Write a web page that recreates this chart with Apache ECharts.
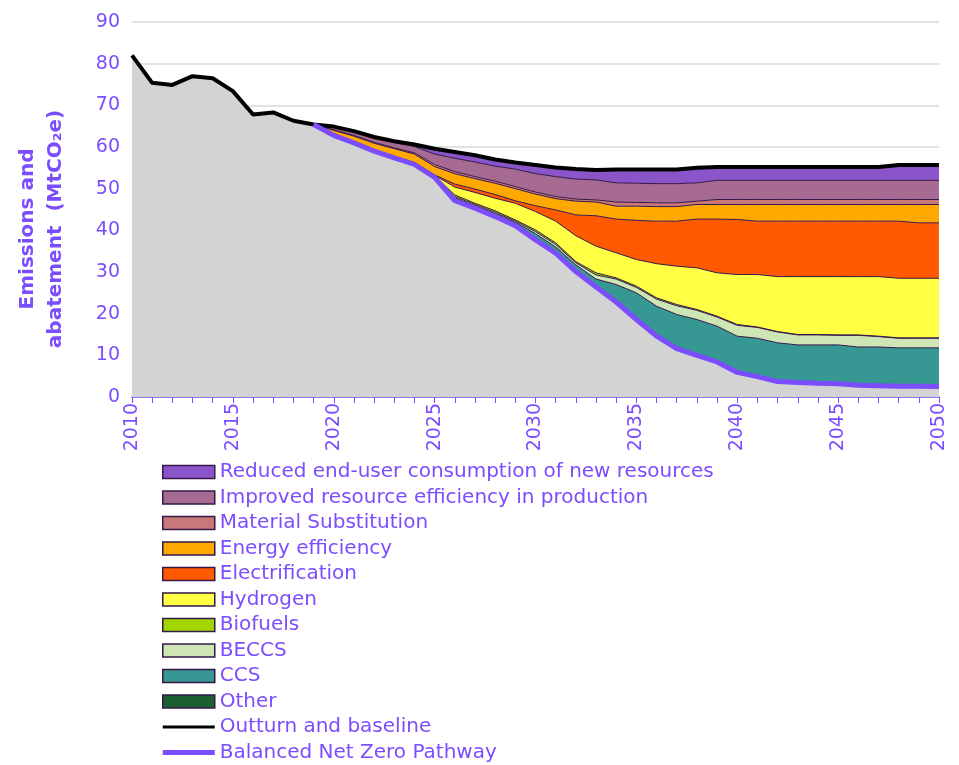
<!DOCTYPE html>
<html>
<head>
<meta charset="utf-8">
<script src="https://cdn.jsdelivr.net/npm/echarts@6/dist/echarts.min.js"></script>
<style>
  html, body { margin: 0; padding: 0; background: #fff; }
  #chart { width: 959px; height: 765px; }
</style>
</head>
<body>
<div id="chart"></div>
<script>
// years on the x axis
const years = [];
for (let y = 2010; y <= 2050; y++) years.push(String(y));

// outturn 2010-2018, baseline 2019-2050 (MtCO2e)
const baseline = [82.0, 75.4, 74.9, 77.0, 76.5, 73.4, 67.8, 68.3, 66.3, 65.4,
  64.9, 63.8, 62.4, 61.4, 60.6, 59.6, 58.8, 58.0, 57.0, 56.3,
  55.7, 55.1, 54.7, 54.5, 54.6, 54.6, 54.6, 54.6, 55.0, 55.2,
  55.2, 55.2, 55.2, 55.2, 55.2, 55.2, 55.2, 55.2, 55.7, 55.7, 55.7];

// the rest start in 2019
const pathway = [65.4, 62.8, 61.0, 59.0, 57.4, 55.8, 52.7, 47.1, 45.3, 43.3, 41.1,
  37.7, 34.5, 30.1, 26.4, 22.8, 18.6, 14.6, 11.6, 10.0, 8.4,
  5.9, 4.9, 3.7, 3.5, 3.3, 3.2, 2.8, 2.7, 2.6, 2.6, 2.5];
const other = [0, 0, 0, 0.1, 0.1, 0.1, 0.1, 0.2, 0.2, 0.2, 0.2,
  0.3, 0.3, 0.3, 0.3, 0.2, 0.2, 0.2, 0.2, 0.2, 0.2,
  0.2, 0.1, 0.1, 0.1, 0.1, 0.1, 0.1, 0.1, 0.1, 0.1, 0.1];
const ccs = [0, 0, 0, 0, 0.1, 0.1, 0.1, 0.5, 0.4, 0.5, 0.6,
  1.2, 1.2, 1.3, 1.6, 4.0, 6.2, 7.0, 8.0, 8.4, 8.4,
  8.5, 9.1, 9.2, 8.9, 9.1, 9.2, 9.1, 9.2, 9.1, 9.1, 9.2];
const beccs = [0, 0, 0, 0, 0, 0.1, 0.1, 0.3, 0.3, 0.3, 0.3,
  0.5, 0.6, 0.5, 1.0, 1.3, 1.3, 1.7, 2.1, 2.2, 2.2,
  2.6, 2.6, 2.6, 2.4, 2.4, 2.3, 2.8, 2.5, 2.3, 2.3, 2.3];
const biofuels = [0, 0, 0, 0, 0, 0, 0.1, 0.4, 0.3, 0.4, 0.3,
  0.4, 0.4, 0.3, 0.5, 0.3, 0.3, 0.3, 0.3, 0.2, 0.2,
  0.2, 0.1, 0.1, 0.1, 0.1, 0.1, 0.1, 0.1, 0.1, 0.1, 0.1];
const hydrogen = [0, 0, 0.1, 0.1, 0.1, 0.1, 0.1, 1.9, 2.6, 3.0, 4.0,
  4.4, 5.2, 6.2, 6.4, 6.0, 6.4, 8.2, 9.2, 10.0, 10.4,
  12.0, 12.6, 13.2, 13.9, 13.9, 14.0, 14.0, 14.3, 14.3, 14.3, 14.3];
const electrification = [0, 0, 0.1, 0.1, 0.1, 0.1, 0.1, 0.7, 0.8, 0.9, 0.6,
  1.4, 2.7, 5.0, 7.3, 8.1, 9.4, 10.2, 10.8, 11.7, 12.9,
  13.2, 12.8, 13.3, 13.3, 13.3, 13.3, 13.3, 13.3, 13.7, 13.3, 13.3];
const energyEff = [0, 1.2, 1.4, 1.6, 1.8, 2.0, 2.0, 2.5, 2.5, 2.7, 2.9,
  2.8, 2.7, 3.3, 3.3, 3.1, 3.4, 3.5, 3.5, 3.5, 3.5,
  3.6, 4.0, 4.0, 4.0, 4.0, 4.0, 4.0, 4.0, 4.0, 4.4, 4.4];
const materialSub = [0, 0.1, 0.2, 0.2, 0.2, 0.3, 0.5, 0.5, 0.5, 0.5, 0.5,
  0.5, 0.5, 0.5, 0.5, 1.0, 0.9, 0.9, 0.9, 0.8, 1.2,
  1.2, 1.2, 1.2, 1.2, 1.2, 1.2, 1.2, 1.2, 1.2, 1.2, 1.2];
const resourceEff = [0, 0.7, 0.9, 1.1, 1.3, 1.5, 2.5, 3.2, 3.5, 3.6, 4.2,
  4.4, 4.8, 4.8, 4.8, 4.6, 4.6, 4.6, 4.6, 4.4, 4.6,
  4.6, 4.6, 4.6, 4.6, 4.6, 4.6, 4.6, 4.6, 4.6, 4.6, 4.6];
const reducedUse = [0, 0.1, 0.1, 0.2, 0.3, 0.5, 1.3, 1.5, 1.6, 1.6, 1.6,
  2.1, 2.2, 2.4, 2.4, 3.2, 3.3, 3.4, 3.4, 3.6, 3.2,
  3.2, 3.2, 3.2, 3.2, 3.2, 3.2, 3.2, 3.2, 3.7, 3.7, 3.7];

const violet = '#7b4dff';
const edge = '#35184a';
const font = 'DejaVu Sans';

// pad the 2019+ arrays so they line up with the 2010 axis
const pad = arr => new Array(9).fill(null).concat(arr);
// grey area: outturn up to 2018, pathway afterwards
const greyArea = baseline.slice(0, 9).concat(pathway);

const layers = [
  ['Other', other, '#1c5e30'],
  ['CCS', ccs, '#379792'],
  ['BECCS', beccs, '#cde6b4'],
  ['Biofuels', biofuels, '#a2d800'],
  ['Hydrogen', hydrogen, '#ffff44'],
  ['Electrification', electrification, '#ff5a00'],
  ['Energy efficiency', energyEff, '#ffa800'],
  ['Material Substitution', materialSub, '#c87878'],
  ['Improved resource efficiency in production', resourceEff, '#a76a93'],
  ['Reduced end-user consumption of new resources', reducedUse, '#8a55c8']
];

const series = [{
  name: 'grey',
  type: 'line',
  stack: 'total',
  data: greyArea,
  showSymbol: false,
  lineStyle: { width: 0 },
  itemStyle: { color: '#d3d3d3' },
  areaStyle: { color: '#d3d3d3', opacity: 1 },
  silent: true
}];
layers.forEach(([name, vals, col]) => {
  series.push({
    name: name,
    type: 'line',
    stack: 'total',
    data: pad(vals),
    showSymbol: false,
    itemStyle: { color: col, borderColor: edge, borderWidth: 1.5 },
    lineStyle: { color: edge, width: 1 },
    areaStyle: { color: col, opacity: 1 }
  });
});
series.push({
  name: 'Outturn and baseline',
  type: 'line',
  data: baseline,
  showSymbol: false,
  z: 5,
  itemStyle: { color: '#000' },
  lineStyle: { color: '#000', width: 4 }
});
series.push({
  name: 'Balanced Net Zero Pathway',
  type: 'line',
  data: pad(pathway),
  showSymbol: false,
  z: 6,
  itemStyle: { color: violet },
  lineStyle: { color: violet, width: 5 }
});

const legendNames = layers.map(l => l[0]).reverse();
const legendData = legendNames.map(n => ({ name: n, icon: 'rect' }));
legendData.push({ name: 'Outturn and baseline', icon: 'path://M0,0 L52,0 L52,3 L0,3 Z', itemStyle: { borderWidth: 0 } });
legendData.push({ name: 'Balanced Net Zero Pathway', icon: 'path://M0,0 L52,0 L52,5 L0,5 Z', itemStyle: { borderWidth: 0 } });

const chart = echarts.init(document.getElementById('chart'));
chart.setOption({
  animation: false,
  grid: { left: 132, right: 20, top: 22, bottom: 368, containLabel: false },
  xAxis: {
    type: 'category',
    data: years,
    boundaryGap: false,
    axisLine: { lineStyle: { color: violet, width: 1.5 } },
    axisTick: { interval: 0, length: 6, lineStyle: { color: violet } },
    axisLabel: { interval: 4, rotate: 90, color: violet, fontSize: 19, fontFamily: font, margin: 6 },
    splitLine: { show: false }
  },
  yAxis: {
    type: 'value',
    min: 0,
    max: 90,
    interval: 10,
    axisLine: { show: false },
    axisTick: { show: false },
    axisLabel: { color: violet, fontSize: 19, fontFamily: font, margin: 12 },
    splitLine: { lineStyle: { color: '#d9d9d9', width: 1.5 } }
  },
  graphic: [{
    type: 'text',
    x: 42,
    y: 229,
    rotation: Math.PI / 2,
    style: {
      text: 'Emissions and\nabatement  (MtCO\u2082e)',
      fill: violet,
      font: 'bold 20px "DejaVu Sans"',
      lineHeight: 28,
      align: 'center',
      verticalAlign: 'middle'
    }
  }],
  legend: {
    orient: 'vertical',
    left: 162,
    top: 462,
    padding: 0,
    itemWidth: 52,
    itemHeight: 13,
    itemGap: 5.5,
    data: legendData,
    textStyle: { color: violet, fontSize: 20, fontFamily: font },
    itemStyle: { borderColor: edge, borderWidth: 1.5 },
    selectedMode: false
  },
  series: series
});
</script>
</body>
</html>
